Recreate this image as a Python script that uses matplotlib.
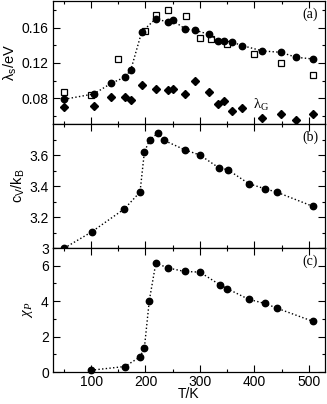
import numpy as np
import matplotlib
matplotlib.use('Agg')
import matplotlib.pyplot as plt
from matplotlib.ticker import MultipleLocator, FixedLocator, FuncFormatter

plt.rcParams['font.family'] = ['Liberation Sans', 'DejaVu Sans']
plt.rcParams['font.size'] = 10

# panel (a): lambda_s (circles), squares, lambda_G (diamonds)
T_a = [51, 105, 137, 162, 173, 193, 219, 242, 250, 273, 291, 316, 334, 345, 359, 378, 415, 449, 477, 508]
lam_s = [0.079, 0.085, 0.097, 0.104, 0.112, 0.155, 0.170, 0.166, 0.168, 0.1585, 0.157, 0.1525,
         0.145, 0.145, 0.1435, 0.1396, 0.1336, 0.132, 0.1264, 0.1245]
lam_G = [0.0705, 0.0713, 0.0815, 0.0811, 0.0784, 0.095, 0.0905, 0.0897, 0.0909, 0.0849, 0.0993,
         0.0875, 0.0735, 0.0769, 0.0653, 0.0687, 0.0577, 0.0622, 0.0551, 0.0622]
T_sq = [51, 100, 150, 200, 220, 241, 274, 300, 321, 350, 399, 449, 508]
lam_sq = [0.0871, 0.0837, 0.1245, 0.1563, 0.1747, 0.1797, 0.1725, 0.1487, 0.1468, 0.1412,
          0.130, 0.1197, 0.1064]

# panel (b): specific heat
T_b = [51, 101, 161, 190, 198, 208, 223, 234, 272, 300, 336, 351, 390, 420, 441, 507]
cv = [3.0, 3.104, 3.252, 3.361, 3.62, 3.70, 3.741, 3.695, 3.634, 3.60, 3.515, 3.506,
      3.415, 3.382, 3.361, 3.27]

# panel (c): chi_P
T_c = [100, 162, 190, 198, 207, 219, 242, 272, 300, 337, 350, 390, 420, 441, 507]
chi = [0.1, 0.31, 0.85, 1.36, 4.03, 6.15, 5.87, 5.68, 5.64, 4.92, 4.71, 4.1, 3.87, 3.61, 2.87]

fig = plt.figure(figsize=(3.27, 4.04), dpi=100)
left, width = 0.162, 0.832
ax_a = fig.add_axes([left, 0.693, width, 0.3045])
ax_b = fig.add_axes([left, 0.386, width, 0.307], sharex=ax_a)
ax_c = fig.add_axes([left, 0.0792, width, 0.3068], sharex=ax_a)

dot = dict(color='black', linestyle=':', linewidth=1.0, marker='o', markersize=4.6,
           clip_on=False, zorder=3)

ax_a.plot(T_a, lam_s, **dot)
ax_a.plot(T_sq, lam_sq, linestyle='none', marker='s', markersize=4.2, markerfacecolor='white',
          markeredgecolor='black', markeredgewidth=0.9, zorder=2)
ax_a.plot(T_a, lam_G, linestyle='none', marker='D', markersize=3.6, color='black', zorder=2)
ax_b.plot(T_b, cv, **dot)
ax_c.plot(T_c, chi, **dot)

ax_a.set_xlim(30, 530)
ax_a.set_ylim(0.051, 0.19)
ax_b.set_ylim(3.0, 3.8)
ax_c.set_ylim(0, 7)

ax_a.yaxis.set_major_locator(FixedLocator([0.08, 0.12, 0.16]))
ax_a.yaxis.set_minor_locator(FixedLocator([0.06, 0.10, 0.14, 0.18]))
ax_a.yaxis.set_major_formatter(FuncFormatter(lambda v, p: '%.2f' % v))
ax_b.yaxis.set_major_locator(FixedLocator([3.0, 3.2, 3.4, 3.6]))
ax_b.yaxis.set_minor_locator(FixedLocator([3.1, 3.3, 3.5, 3.7]))
ax_b.yaxis.set_major_formatter(FuncFormatter(lambda v, p: '3' if abs(v - 3) < 1e-6 else '%.1f' % v))
ax_c.yaxis.set_major_locator(FixedLocator([0, 2, 4, 6]))
ax_c.yaxis.set_minor_locator(MultipleLocator(1))

ax_c.xaxis.set_major_locator(MultipleLocator(100))
ax_c.xaxis.set_minor_locator(MultipleLocator(50))

for ax in (ax_a, ax_b, ax_c):
    ax.tick_params(which='both', direction='in', top=True, right=True, width=0.8)
    ax.tick_params(which='major', length=5, labelsize=10, pad=3)
    ax.tick_params(which='minor', length=2.5)
    for s in ax.spines.values():
        s.set_linewidth(0.9)
ax_a.tick_params(labelbottom=False)
ax_b.tick_params(labelbottom=False)
ax_c.tick_params(axis='x', which='major', pad=2)

ax_a.set_ylabel('λ$_\\mathregular{s}$/eV', fontsize=10.5, labelpad=2)
ax_b.set_ylabel('c$_\\mathregular{V}$/k$_\\mathregular{B}$', fontsize=10.5, labelpad=2)
ax_c.set_ylabel('χ$_\\mathregular{P}$', fontsize=11, labelpad=4,
                family=['Liberation Serif', 'DejaVu Serif'], style='italic')
ax_c.set_xlabel('T/K', fontsize=10, labelpad=-1)

serif = ['Liberation Serif', 'DejaVu Serif']
ax_a.text(0.975, 0.89, '(a)', transform=ax_a.transAxes, ha='right', va='center',
          fontsize=10, family=serif)
ax_b.text(0.975, 0.89, '(b)', transform=ax_b.transAxes, ha='right', va='center',
          fontsize=10, family=serif)
ax_c.text(0.975, 0.89, '(c)', transform=ax_c.transAxes, ha='right', va='center',
          fontsize=10, family=serif)
ax_a.text(397, 0.0725, 'λ$_\\mathregular{G}$', ha='left', va='center', fontsize=10.5, family=serif)

fig.savefig('out.png', dpi=100)
